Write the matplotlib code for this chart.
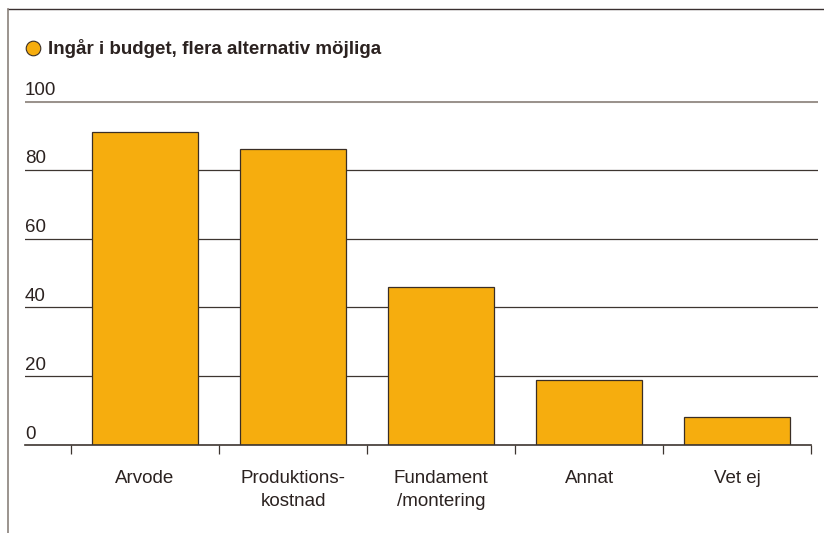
import matplotlib
matplotlib.use("Agg")
import matplotlib.pyplot as plt
from matplotlib.lines import Line2D

categories = ["Arvode", "Produktions-\nkostnad", "Fundament\n/montering", "Annat", "Vet ej"]
values = [91, 86, 46, 19, 8]
yticks = [0, 20, 40, 60, 80, 100]
title = "Ingår i budget, flera alternativ möjliga"

plt.rcParams['font.family'] = ['Liberation Sans', 'DejaVu Sans']
txt = "#2b2220"
bar_color = "#F6AD0E"
edge = "#3a2e25"

fig = plt.figure(figsize=(8.24, 5.33), dpi=100)
W, H = 824, 533
ax = fig.add_axes([25 / W, (H - 445) / H, (818 - 25) / W, (445 - 101) / H])
x = list(range(len(categories)))
ax.bar(x, values, width=0.72, color=bar_color, edgecolor=edge, linewidth=0.9, zorder=3)
ax.set_xlim(-0.811, 4.547)
ax.set_ylim(0, 100)
for s in ax.spines.values():
    s.set_visible(False)

for v in yticks[1:]:
    if v == 100:
        ax.axhline(v, color="#9b938d", lw=2.2, zorder=1)
    else:
        ax.axhline(v, color="#3d3530", lw=0.9, zorder=1)
for v in yticks:
    ax.text(0, v + 0.7, str(v), transform=ax.get_yaxis_transform(), ha="left", va="bottom",
            fontsize=13.5, color=txt)
ax.plot([-0.811, 4.5], [0, 0], color="#3d3530", lw=1.2, zorder=4, clip_on=False)

ax.set_yticks([])
ax.set_xticks([i - 0.5 for i in range(len(categories) + 1)])
ax.set_xticklabels([])
ax.tick_params(axis="x", direction="out", length=6.5, width=0.9, color="#3d3530")

for i, c in enumerate(categories):
    ax.text(i, -7.3, c, ha="center", va="top", fontsize=13.5, color=txt, linespacing=1.45)

# frame lines
fig.add_artist(Line2D([8 / W, 1], [1 - 9 / H, 1 - 9 / H], color="#3a3030", lw=1.0))
fig.add_artist(Line2D([8 / W, 8 / W], [0, 1 - 9 / H], color="#8a817b", lw=1.2))

# title with marker
fig.add_artist(Line2D([33 / W], [1 - 48 / H], marker="o", markersize=10.5,
                      markerfacecolor=bar_color, markeredgecolor=edge, markeredgewidth=0.8,
                      linestyle="none"))
fig.text(48 / W, 1 - 48 / H, title, ha="left", va="center", fontsize=13.5,
         fontweight="bold", color=txt)

fig.savefig("out.png", dpi=100)
